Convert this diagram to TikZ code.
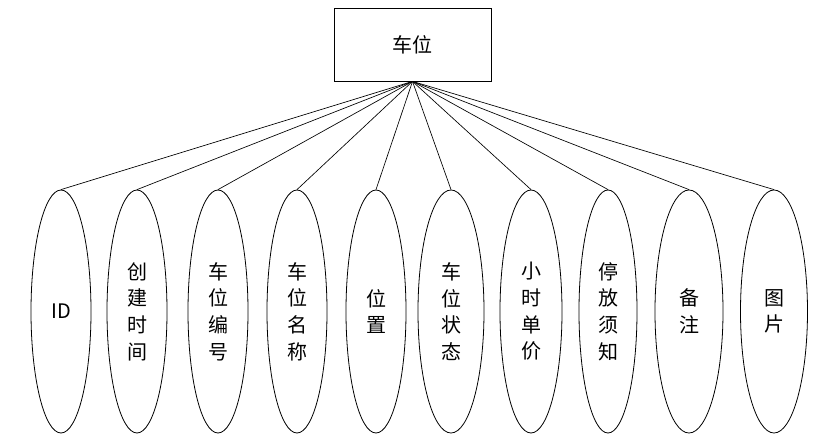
\documentclass[tikz,border=0pt]{standalone}
\usepackage{fontspec}
\newfontfamily\cjk{Noto Sans CJK SC}
\usetikzlibrary{shapes.geometric}

\begin{document}
\begin{tikzpicture}[
      x=0.75pt, y=-0.75pt,
      entity/.style={rectangle, draw, line width=0.6pt, minimum width=157*0.75pt,
                     minimum height=73*0.75pt, font=\cjk\fontsize{15}{20}\selectfont},
      attr/.style={ellipse, draw, line width=0.6pt, inner sep=0pt, minimum height=243*0.75pt,
                   minimum width=#1*0.75pt, align=center, font=\cjk\fontsize{15}{20}\selectfont},
      attr/.default=60,
      link/.style={line width=0.5pt}
    ]
      \useasboundingbox (0,0) rectangle (833,435);
      \node[entity] (space) at (412.5,44.5) {车位};
      \node[attr] (id) at (61,311.5) {ID};
      \node[attr] (ctime) at (137,311.5) {创\\建\\时\\间};
      \node[attr] (code) at (218,311.5) {车\\位\\编\\号};
      \node[attr] (name) at (297,311.5) {车\\位\\名\\称};
      \node[attr] (place) at (376,311.5) {位\\置};
      \node[attr=66] (state) at (451,311.5) {车\\位\\状\\态};
      \node[attr=62] (price) at (531,311.5) {小\\时\\单\\价};
      \node[attr=58] (notice) at (608,311.5) {停\\放\\须\\知};
      \node[attr=68] (remark) at (689,311.5) {备\\注};
      \node[attr=67] (pic) at (774,311.5) {图\\片};
      \foreach \nm in {id,ctime,code,name,place,state,price,notice,remark,pic}
        \draw[link] (space.south) -- (\nm.north);
    \end{tikzpicture}
\end{document}
